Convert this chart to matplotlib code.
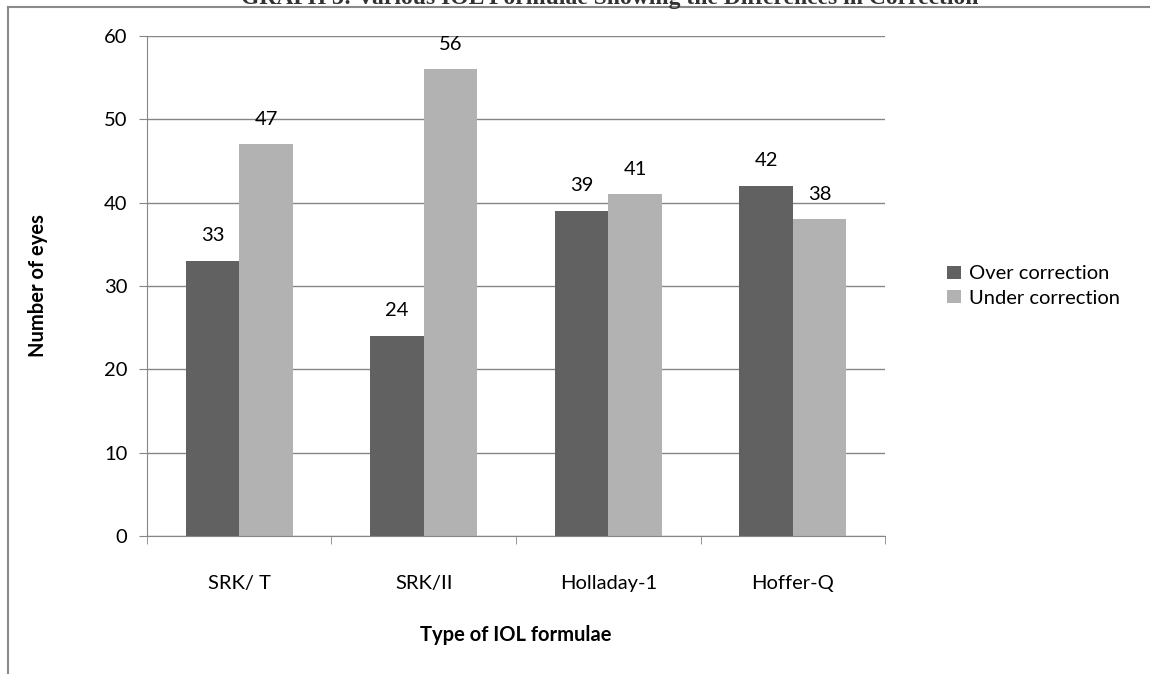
import matplotlib.pyplot as plt
import numpy as np
from matplotlib.lines import Line2D

categories = ['SRK/ T', 'SRK/II', 'Holladay-1', 'Hoffer-Q']
over_correction = [33, 24, 39, 42]
under_correction = [47, 56, 41, 38]
series_names = ['Over correction', 'Under correction']

plt.rcParams['font.family'] = ['Lato', 'DejaVu Sans']
fs = 14.5

fig = plt.figure(figsize=(11.5, 6.74), dpi=100)
ax = fig.add_axes([0.1278, 0.2047, 0.6418, 0.7419])

x = np.arange(len(categories))
w = 0.29
b1 = ax.bar(x - w / 2, over_correction, w, color='#616161', label=series_names[0])
b2 = ax.bar(x + w / 2, under_correction, w, color='#b2b2b2', label=series_names[1])

for bars in (b1, b2):
    for r in bars:
        ax.text(r.get_x() + r.get_width() / 2, r.get_height() + 2.0, str(int(r.get_height())),
                ha='center', va='bottom', fontsize=fs)

ax.set_xlim(-0.5, 3.5)
ax.set_ylim(0, 60)
ax.set_yticks(range(0, 61, 10))
ax.set_xticks(x)
ax.set_xticklabels(categories, fontsize=fs)
ax.tick_params(axis='y', labelsize=fs, length=6, color='#868686', pad=8)
ax.tick_params(axis='x', length=0, pad=28)
ax.set_xticks(np.arange(-0.5, 4, 1), minor=True)
ax.tick_params(axis='x', which='minor', length=6, color='#868686', direction='out')

ax.grid(axis='y', color='#868686', linewidth=1)
ax.set_axisbelow(True)
for s in ['top', 'right']:
    ax.spines[s].set_visible(False)
ax.spines['left'].set_color('#868686')
ax.spines['bottom'].set_color('#868686')

ax.set_ylabel('Number of eyes', fontsize=fs, fontweight='bold', labelpad=40)
ax.set_xlabel('Type of IOL formulae', fontsize=fs, fontweight='bold', labelpad=24)

ax.legend(loc='center left', bbox_to_anchor=(1.06, 0.5), frameon=False, fontsize=fs,
          handlelength=0.65, handleheight=0.65, handletextpad=0.4, labelspacing=0.35)

# outer frame and title (clipped at the top edge as in the source scan)
fig.add_artist(Line2D([0.007, 0.007], [0, 0.99], color='#8a8a8a', lw=1.5))
fig.add_artist(Line2D([0.007, 1.0], [0.99, 0.99], color='#8a8a8a', lw=1.5))
fig.text(0.53, 0.9945, 'GRAPH 3: Various IOL Formulae Showing the Differences in Correction',
         ha='center', va='baseline', fontsize=17, fontweight='bold', family='Liberation Serif',
         color='#333333')

fig.savefig('out.png', dpi=100)
